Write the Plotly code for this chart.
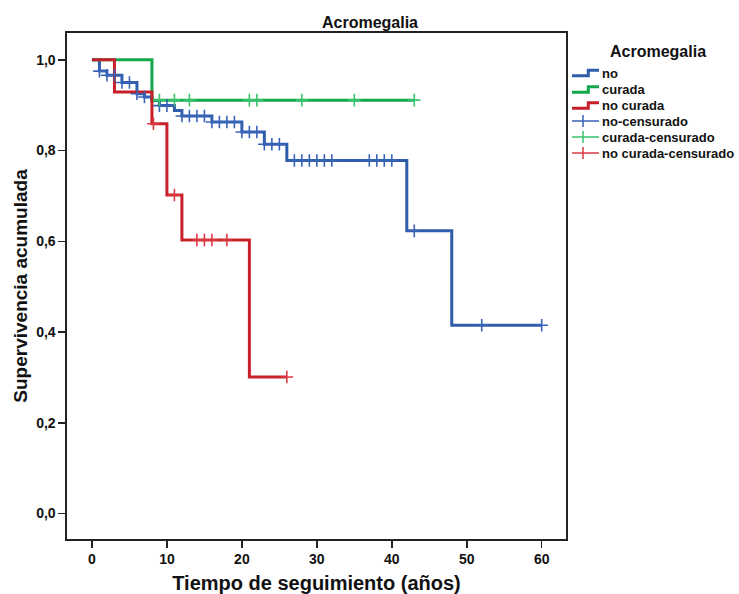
import numpy as np
import plotly.graph_objects as go

# ---- data ----
no_times = [0, 1, 2, 4, 6, 7, 8, 9, 11, 12, 16, 20, 23, 26, 42, 48, 60]
no_surv = [1.0, 0.975, 0.966, 0.950, 0.925, 0.918, 0.910, 0.899, 0.888, 0.876, 0.863, 0.841, 0.814, 0.778, 0.623, 0.415, 0.415]
no_cens = [1, 2, 3, 4, 5, 6, 7, 9, 10, 12, 13, 14, 15, 16, 17, 18, 19, 20, 21, 22, 23,
           24, 25, 27, 28, 29, 30, 31, 32, 37, 38, 39, 40, 43, 52, 60]

cur_times = [0, 8, 43]
cur_surv = [1.0, 0.911, 0.911]
cur_cens = [9, 11, 13, 21, 22, 28, 35, 43]

nocur_times = [0, 3, 8, 10, 12, 21, 26]
nocur_surv = [1.0, 0.929, 0.859, 0.702, 0.603, 0.301, 0.301]
nocur_cens = [8.2, 11, 14, 15, 16, 18, 26]

x_ticks = [0, 10, 20, 30, 40, 50, 60]
y_ticks = [0.0, 0.2, 0.4, 0.6, 0.8, 1.0]

line_names = ["no", "curada", "no curada"]
cens_names = ["no-censurado", "curada-censurado", "no curada-censurado"]

BLUE = "#2f5dab"
GREEN = "#14a84b"
RED = "#c8202b"
BLUE_C = "#3a63b8"
GREEN_C = "#38c46f"
RED_C = "#dd3a44"

W, H = 739, 594
L, R, T, B = 67, 566, 33, 539  # plot frame in pixels
FONT = "Liberation Sans, Arial, sans-serif"
TXT = "#111111"


def surv_at(times, surv, t):
    idx = np.searchsorted(np.array(times), t, side="right") - 1
    return [surv[i] for i in idx]


def px(xp):
    return (xp - L) / (R - L)


def py(yp):
    return (B - yp) / (B - T)


fig = go.Figure()
series = [(no_times, no_surv, no_cens, BLUE, BLUE_C),
          (cur_times, cur_surv, cur_cens, GREEN, GREEN_C),
          (nocur_times, nocur_surv, nocur_cens, RED, RED_C)]

for (t, s, cen, c, cc), ln, cn in zip(series, line_names, cens_names):
    fig.add_trace(go.Scatter(x=t, y=s, mode="lines", name=ln, showlegend=False,
                             line=dict(color=c, width=3, shape="hv")))
for (t, s, cen, c, cc), ln, cn in zip(series, line_names, cens_names):
    fig.add_trace(go.Scatter(x=cen, y=surv_at(t, s, cen), mode="markers", name=cn,
                             showlegend=False,
                             marker=dict(symbol="cross-thin", size=9,
                                         line=dict(color=cc, width=1.6))))

# ---- legend (drawn as layout decoration) ----
shapes = []
annotations = []
annotations.append(dict(text="<b>Acromegalia</b>", xref="paper", yref="paper",
                        x=px(658), y=py(51.5), xanchor="center", yanchor="middle",
                        showarrow=False, font=dict(size=16, family=FONT, color=TXT)))
entry_y = [73, 89.5, 105.5, 121, 137, 153]
for i, (name, col) in enumerate(zip(line_names, [BLUE, GREEN, RED])):
    yc = entry_y[i]
    path = (f"M {px(572)} {py(yc + 2.7)} L {px(588.3)} {py(yc + 2.7)} "
            f"L {px(588.3)} {py(yc - 2.7)} L {px(599)} {py(yc - 2.7)}")
    shapes.append(dict(type="path", xref="paper", yref="paper", path=path,
                       line=dict(color=col, width=3)))
    annotations.append(dict(text=f"<b>{name}</b>", xref="paper", yref="paper",
                            x=px(600), y=py(yc), xanchor="left", yanchor="middle",
                            showarrow=False, font=dict(size=13, family=FONT, color=TXT)))
for j, (name, col) in enumerate(zip(cens_names, [BLUE_C, GREEN_C, RED_C])):
    yc = entry_y[3 + j]
    shapes.append(dict(type="line", xref="paper", yref="paper",
                       x0=px(572), x1=px(599), y0=py(yc), y1=py(yc),
                       line=dict(color=col, width=1.5)))
    shapes.append(dict(type="line", xref="paper", yref="paper",
                       x0=px(583), x1=px(583), y0=py(yc - 6), y1=py(yc + 6),
                       line=dict(color=col, width=1.5)))
    annotations.append(dict(text=f"<b>{name}</b>", xref="paper", yref="paper",
                            x=px(600), y=py(yc), xanchor="left", yanchor="middle",
                            showarrow=False, font=dict(size=13, family=FONT, color=TXT)))

fig.update_layout(
    width=W, height=H,
    margin=dict(l=L, r=W - R, t=T, b=H - B, autoexpand=False),
    plot_bgcolor="white", paper_bgcolor="white",
    separators=",.",
    font=dict(family=FONT, color=TXT),
    showlegend=False,
    title=dict(text="<b>Acromegalia</b>", x=370 / W, xanchor="center", xref="container",
               y=1 - 22 / H, yanchor="middle", yref="container", automargin=False,
               font=dict(size=16, family=FONT, color=TXT)),
    xaxis=dict(range=[-3.33, 63.24], tickvals=x_ticks, showgrid=False, zeroline=False,
               automargin=False,
               showline=True, linecolor="#222222", linewidth=1.6, mirror=True,
               ticks="outside", ticklen=7, tickwidth=1.5, tickcolor="#222222",
               tickfont=dict(size=14, family=FONT, weight="bold", color=TXT),
               title=dict(text="<b>Tiempo de seguimiento (años)</b>", standoff=14,
                          font=dict(size=20, family=FONT, color=TXT))),
    yaxis=dict(range=[-0.056, 1.059], tickvals=y_ticks, tickformat=".1f", showgrid=False,
               zeroline=False, showline=True, linecolor="#222222", linewidth=1.6, mirror=True,
               automargin=False,
               ticks="outside", ticklen=7, tickwidth=1.5, tickcolor="#222222",
               tickfont=dict(size=14, family=FONT, weight="bold", color=TXT),
               title=dict(text="<b>Supervivencia acumulada</b>", standoff=3,
                          font=dict(size=19, family=FONT, color=TXT))),
    shapes=shapes,
    annotations=annotations,
)

fig.write_html("out.html",
               config={"displayModeBar": False, "staticPlot": True},
               post_script="document.body.style.margin='0px';document.body.style.overflow='hidden';")
